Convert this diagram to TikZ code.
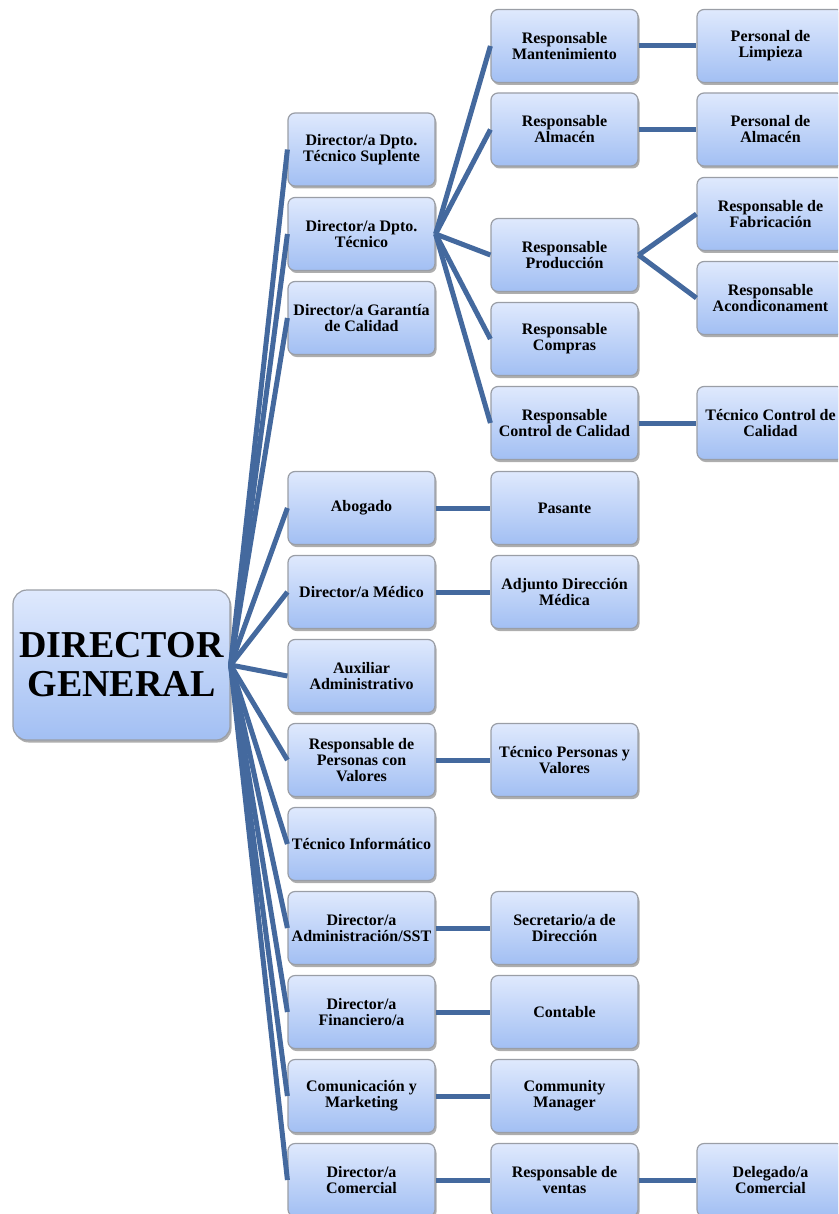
\documentclass[tikz,border=0pt]{standalone}
\usepackage{fontspec}
\setmainfont{Liberation Serif}
\usetikzlibrary{shadows}
\definecolor{linec}{HTML}{44699E}
\definecolor{boxtop}{HTML}{DFE9FD}
\definecolor{boxbot}{HTML}{A2BFF3}
\definecolor{boxedge}{HTML}{9A9EA6}
\begin{document}
\begin{tikzpicture}[x=1pt,y=-1pt,
  box/.style={draw=boxedge, line width=1.2pt, rounded corners=7pt,
    top color=boxtop, bottom color=boxbot,
    minimum width=147pt, minimum height=73pt, inner sep=0pt, align=center,
    font=\bfseries\fontsize{16}{16}\selectfont,
    drop shadow={shadow xshift=1.5pt, shadow yshift=-2.5pt, opacity=0.45, fill=black!70}},
  rootbox/.style={box, minimum width=217pt, minimum height=150pt, rounded corners=14pt,
    font=\bfseries\fontsize{38}{39}\selectfont},
  link/.style={draw=linec, line width=5pt}]
\useasboundingbox (0,0) rectangle (838,1214);
\clip (0,0) rectangle (838,1214);
% root
\node[rootbox] (r) at (121.5,665) {DIRECTOR\\GENERAL};
% level 1
\node[box] (a1) at (361.5,149.5) {Director/a Dpto.\\Técnico Suplente};
\node[box] (a2) at (361.5,234) {Director/a Dpto.\\Técnico};
\node[box] (a3) at (361.5,318) {Director/a Garantía\\de Calidad};
\node[box] (a4) at (361.5,508) {Abogado};
\node[box] (a5) at (361.5,592) {Director/a Médico};
\node[box] (a6) at (361.5,676) {Auxiliar\\Administrativo};
\node[box] (a7) at (361.5,760) {Responsable de\\Personas con\\Valores};
\node[box] (a8) at (361.5,844) {Técnico Informático};
\node[box] (a9) at (361.5,928) {Director/a\\Administración/SST};
\node[box] (a10) at (361.5,1012) {Director/a\\Financiero/a};
\node[box] (a11) at (361.5,1096) {Comunicación y\\Marketing};
\node[box] (a12) at (361.5,1180) {Director/a\\Comercial};
% level 2
\node[box] (b1) at (564.5,46) {Responsable\\Mantenimiento};
\node[box] (b2) at (564.5,129.5) {Responsable\\Almacén};
\node[box] (b3) at (564.5,255) {Responsable\\Producción};
\node[box] (b4) at (564.5,339) {Responsable\\Compras};
\node[box] (b5) at (564.5,423) {Responsable\\Control de Calidad};
\node[box] (b6) at (564.5,508) {Pasante};
\node[box] (b7) at (564.5,592) {Adjunto Dirección\\Médica};
\node[box] (b8) at (564.5,760) {Técnico Personas y\\Valores};
\node[box] (b9) at (564.5,928) {Secretario/a de\\Dirección};
\node[box] (b10) at (564.5,1012) {Contable};
\node[box] (b11) at (564.5,1096) {Community\\Manager};
\node[box] (b12) at (564.5,1180) {Responsable de\\ventas};
% level 3
\node[box] (c1) at (770.5,46) {Personal de\\Limpieza};
\node[box] (c2) at (770.5,129.5) {Personal de\\Almacén};
\node[box] (c3) at (770.5,214) {Responsable de\\Fabricación};
\node[box] (c4) at (770.5,298) {Responsable\\Acondiconament};
\node[box] (c5) at (770.5,423) {Técnico Control de\\Calidad};
\node[box] (c6) at (770.5,1180) {Delegado/a\\Comercial};
% connectors
\foreach \n in {a1,a2,a3,a4,a5,a6,a7,a8,a9,a10,a11,a12}
  \draw[link] (r.east) -- (\n.west);
\foreach \n in {b1,b2,b3,b4,b5}
  \draw[link] (a2.east) -- (\n.west);
\draw[link] (a4.east) -- (b6.west);
\draw[link] (a5.east) -- (b7.west);
\draw[link] (a7.east) -- (b8.west);
\draw[link] (a9.east) -- (b9.west);
\draw[link] (a10.east) -- (b10.west);
\draw[link] (a11.east) -- (b11.west);
\draw[link] (a12.east) -- (b12.west);
\draw[link] (b1.east) -- (c1.west);
\draw[link] (b2.east) -- (c2.west);
\draw[link] (b3.east) -- (c3.west);
\draw[link] (b3.east) -- (c4.west);
\draw[link] (b5.east) -- (c5.west);
\draw[link] (b12.east) -- (c6.west);
\end{tikzpicture}
\end{document}
